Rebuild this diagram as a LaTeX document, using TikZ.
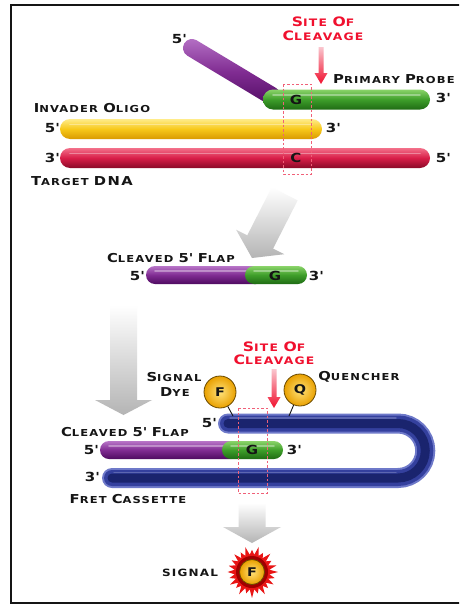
\documentclass[tikz,border=0pt]{standalone}
\usepackage{fontspec}
\newfontfamily\lblfont[FakeStretch=1.2,LetterSpace=12]{DejaVu Sans}

% rod colours: T = lit top, M = body, B = shadowed bottom
\definecolor{grT}{HTML}{8BD46A}\definecolor{grM}{HTML}{3E9E2A}\definecolor{grB}{HTML}{1F6B14}
\definecolor{yeT}{HTML}{FFEC8A}\definecolor{yeM}{HTML}{F7C81A}\definecolor{yeB}{HTML}{D99A00}
\definecolor{rdT}{HTML}{F3708A}\definecolor{rdM}{HTML}{D81E48}\definecolor{rdB}{HTML}{8A0A28}
\definecolor{puT}{HTML}{B875C8}\definecolor{puM}{HTML}{802C92}\definecolor{puB}{HTML}{4E0A60}
\definecolor{blE}{HTML}{6E79C9}\definecolor{blM}{HTML}{34409E}\definecolor{blD}{HTML}{1A246E}
\definecolor{ballI}{HTML}{FFE27A}\definecolor{ballO}{HTML}{E9A000}\definecolor{ballE}{HTML}{6B4A00}
\definecolor{siteC}{HTML}{F06078}\definecolor{cutred}{HTML}{F0102E}\definecolor{cutpale}{HTML}{FAC6CE}
\definecolor{arrowgray}{HTML}{B4B4B4}\definecolor{burst}{HTML}{E81414}\definecolor{burstD}{HTML}{A00000}
\definecolor{ink}{HTML}{151515}

\newcommand\B[1]{{\fontsize{12.3}{12}\selectfont #1}}
\newcommand\RB[1]{{\fontsize{13}{13}\selectfont #1}}
\newcommand\pr{\textquotesingle}

% horizontal rod: #1 colour prefix, #2 left x, #3 right x, #4 centre y, #5 half thickness
\newcommand\hrod[5]{%
  \shade[rounded corners=#5pt, top color=#1T, bottom color=#1B, middle color=#1M]
    (#2,#4-#5) rectangle (#3,#4+#5);
  \draw[white, opacity=.35, line width=1.6pt, line cap=round]
    (#2+#5,#4-#5*0.45) -- (#3-#5,#4-#5*0.45);
}

\tikzset{
  lbl/.style={inner sep=0pt, text=ink, font=\lblfont\bfseries\fontsize{9.6}{10}\selectfont},
  redlbl/.style={inner sep=0pt, text=cutred, font=\lblfont\bfseries\fontsize{10.3}{11}\selectfont},
  endlbl/.style={inner sep=0pt, text=ink, font=\lblfont\bfseries\fontsize{12.5}{12}\selectfont},
  baselbl/.style={inner sep=0pt, text=ink, font=\lblfont\bfseries\fontsize{12.5}{12}\selectfont},
  sitebox/.style={draw=siteC, dash pattern=on 2.5pt off 2pt, line width=0.9pt},
  ballnode/.style={circle, minimum size=32pt, inner sep=0pt, shade, inner color=ballI, outer color=ballO,
    draw=ballE, line width=0.8pt, text=ink, font=\lblfont\bfseries\fontsize{12}{12}\selectfont},
  stem/.style={draw=ink, line width=0.9pt},
  blockarrow/.style={top color=white, bottom color=arrowgray},
  cutarrow/.style={top color=cutpale, bottom color=cutred},
}

\begin{document}
\begin{tikzpicture}[x=1pt, y=-1pt]
\useasboundingbox (0,0) rectangle (459,605);
\clip (0,0) rectangle (459,605);
\fill[white] (0,0) rectangle (459,605);

% frame (open on the right)
\draw[line width=2pt, ink] (470,5) -- (11,5) -- (11,603) -- (470,603);

%% ---------- stage 1: invader, probe and target ----------
\begin{scope}[shift={(192,48)}, rotate=-31]
  \shade[rounded corners=9pt, top color=puT, bottom color=puB, middle color=puM] (-9,-9) rectangle (102,9);
\end{scope}
\hrod{gr}{263}{430}{99.5}{10}
\hrod{ye}{60}{322}{129}{10}
\hrod{rd}{60}{430}{158}{10}

\node[redlbl] (site1a) at (323,22) {\RB{S}ITE \RB{O}F};
\node[redlbl] (site1b) at (323,36) {\RB{C}LEAVAGE};
\shade[cutarrow] (321,84) -- (314.5,73) -- (318.5,73) -- (318.5,47) -- (323.5,47) -- (323.5,73) -- (327.5,73) -- cycle;

\node[lbl, anchor=west] (probe) at (333,79) {\B{P}RIMARY \B{P}ROBE};
\node[endlbl] (probe3) at (443,98) {3\pr};
\node[endlbl] (probe5) at (179,39) {5\pr};
\node[baselbl] (g1) at (296,100) {G};

\node[lbl] (invader) at (92,108) {\B{I}NVADER \B{O}LIGO};
\node[endlbl] (inv5) at (52,128) {5\pr};
\node[endlbl] (inv3) at (333,128) {3\pr};

\node[endlbl] (tgt3) at (52,158) {3\pr};
\node[endlbl] (tgt5) at (443,158) {5\pr};
\node[baselbl] (c1) at (296,158) {C};
\node[lbl] (target) at (82,181) {\B{T}ARGET \B{DNA}};

\draw[sitebox] (283,84) rectangle (311,174);

%% ---------- stage 2: released flap ----------
\begin{scope}[shift={(252,258)}, rotate=-27]
  \shade[blockarrow] (0,0) -- (-27,-18) -- (-14.5,-18) -- (-14.5,-72) -- (14.5,-72) -- (14.5,-18) -- (27,-18) -- cycle;
\end{scope}

\node[lbl] (flap1) at (171,258) {\B{C}LEAVED \B{5\pr} \B{F}LAP};
\hrod{pu}{146}{265}{275}{9}
\hrod{gr}{245}{307}{275}{9}
\node[endlbl] (flap1l) at (137,276) {5\pr};
\node[endlbl] (flap1r) at (316,276) {3\pr};
\node[baselbl] (g2) at (275,276) {G};

\shade[blockarrow] (123.5,415) -- (95,400) -- (110,400) -- (110,305) -- (137,305) -- (137,400) -- (152,400) -- cycle;

%% ---------- stage 3: FRET cassette ----------
\node[redlbl] (site2a) at (274,347) {\RB{S}ITE \RB{O}F};
\node[redlbl] (site2b) at (274,360) {\RB{C}LEAVAGE};
\shade[cutarrow] (274,408) -- (267.5,397) -- (271.5,397) -- (271.5,369) -- (276.5,369) -- (276.5,397) -- (280.5,397) -- cycle;

\node[lbl] (sig1) at (174,377) {\B{S}IGNAL};
\node[lbl] (dye) at (175,392) {\B{D}YE};
\node[lbl] (quencher) at (359,377) {\B{Q}UENCHER};

% hairpin cassette
\foreach \w/\c in {20/blE, 16/blM, 9/blD}
  \draw[line width=\w pt, \c, line cap=round]
    (228,423.5) -- (398,423.5) arc[start angle=-90, end angle=90, radius=27.25] -- (112,478);
\draw[white, opacity=.2, line width=1.4pt, line cap=round] (230,418) -- (396,418);
\draw[white, opacity=.2, line width=1.4pt, line cap=round] (114,472.5) -- (396,472.5);

\coordinate (fstem) at (233,416);
\coordinate (qstem) at (289,416);
\node[ballnode] (ballF) at (220,392) {F};
\node[ballnode] (ballQ) at (300,390) {Q};
\draw[stem] (ballF) -- (fstem);
\draw[stem] (ballQ) -- (qstem);

\node[endlbl] (cas5) at (209,423) {5\pr};
\node[lbl] (flap2) at (125,432) {\B{C}LEAVED \B{5\pr} \B{F}LAP};
\hrod{pu}{100}{240}{450}{9}
\hrod{gr}{222}{283}{450}{9}
\node[endlbl] (flap2l) at (91,450) {5\pr};
\node[endlbl] (flap2r) at (294,450) {3\pr};
\node[baselbl] (g3) at (252,450) {G};
\node[endlbl] (cas3) at (92,477) {3\pr};
\node[lbl] (fret) at (128,499) {\B{F}RET \B{C}ASSETTE};

\draw[sitebox] (238,408) rectangle (267,493);

%% ---------- signal ----------
\shade[blockarrow] (252,543) -- (223,527) -- (238.5,527) -- (238.5,503) -- (265.5,503) -- (265.5,527) -- (281,527) -- cycle;

\begin{scope}[shift={(252,572)}]
  \fill[burst] (0:26) \foreach \i in {1,...,47} {
      -- ({\i*7.5}:{ifthenelse(mod(\i,2)==0, 24+2*sin(\i*97), 17.5)}) } -- cycle;
  \fill[burstD] (0,0) circle (16);
\end{scope}
\node[ballnode, minimum size=25pt] (ballS) at (252,572) {F};
\node[lbl, font=\lblfont\bfseries\fontsize{10}{10}\selectfont] (signal) at (190,573) {SIGNAL};

\end{tikzpicture}
\end{document}
